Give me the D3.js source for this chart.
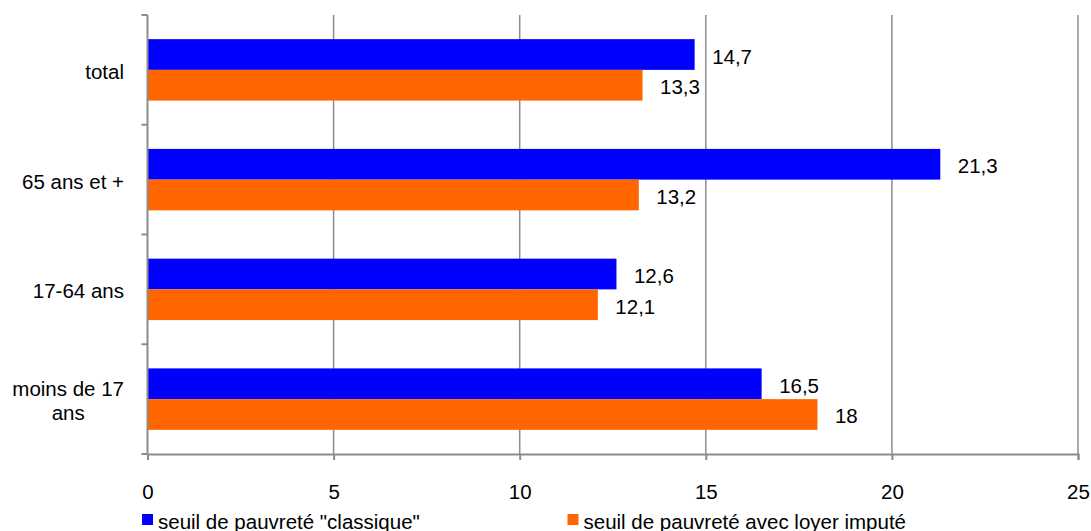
<!DOCTYPE html>
<html>
<head>
<meta charset="utf-8">
<script src="https://cdn.jsdelivr.net/npm/d3@7"></script>
<style>
  html, body { margin: 0; padding: 0; background: #fff; }
  svg { display: block; font-family: "Liberation Sans", Arial, sans-serif; }
</style>
</head>
<body>
<svg id="chart" width="1091" height="531"></svg>
<script>
// Taux de pauvreté par âge selon deux définitions du seuil
const categories = ["total", "65 ans et +", "17-64 ans", "moins de 17 ans"];
const categoryLines = [["total"], ["65 ans et +"], ["17-64 ans"], ["moins de 17", "ans"]];
const seriesNames = ["seuil de pauvreté \"classique\"", "seuil de pauvreté avec loyer imputé"];
const classique = [14.7, 21.3, 12.6, 16.5];
const loyerImpute = [13.3, 13.2, 12.1, 18];
const xTicks = [0, 5, 10, 15, 20, 25];
const colors = ["#0000ff", "#ff6600"];

const svg = d3.select("#chart");
const margin = { left: 147.5, right: 13, top: 15, bottom: 77 };
const W = 1091, H = 531;
const fontSize = 20.5;
const gray = "#8c8c8c";

const x = d3.scaleLinear().domain([0, 25]).range([margin.left, W - margin.right]);
const y = d3.scaleBand().domain(categories).range([margin.top, H - margin.bottom])
  .paddingInner(0.44).paddingOuter(0.22);
const ySub = d3.scaleBand().domain([0, 1]).range([0, y.bandwidth()]).padding(0);

const plotTop = margin.top, plotBottom = H - margin.bottom;
const step = y.step();

// Vertical gridlines
svg.append("g").selectAll("line").data(xTicks.filter(d => d > 0)).join("line")
  .attr("x1", d => x(d)).attr("x2", d => x(d))
  .attr("y1", plotTop).attr("y2", plotBottom)
  .attr("stroke", gray).attr("stroke-width", 1.5);

// Bars
const rows = categories.map((c, i) => ({ cat: c, vals: [classique[i], loyerImpute[i]] }));
const groups = svg.append("g").selectAll("g").data(rows).join("g")
  .attr("transform", d => `translate(0,${y(d.cat)})`);

groups.selectAll("rect").data(d => d.vals.map((v, k) => ({ v, k }))).join("rect")
  .attr("x", x(0))
  .attr("y", d => ySub(d.k))
  .attr("width", d => x(d.v) - x(0))
  .attr("height", ySub.bandwidth())
  .attr("fill", d => colors[d.k]);

// Value labels
const fmt = v => String(v).replace(".", ",");
groups.selectAll("text").data(d => d.vals.map((v, k) => ({ v, k }))).join("text")
  .attr("x", d => x(d.v) + 17.5)
  .attr("y", d => ySub(d.k) + ySub.bandwidth() / 2 + 9)
  .attr("font-size", fontSize)
  .attr("fill", "#000")
  .text(d => fmt(d.v));

// Left axis line with ticks at category boundaries
svg.append("line")
  .attr("x1", x(0)).attr("x2", x(0))
  .attr("y1", plotTop).attr("y2", plotBottom)
  .attr("stroke", gray).attr("stroke-width", 2);
svg.append("g").selectAll("line").data(d3.range(categories.length + 1)).join("line")
  .attr("x1", x(0) - 6).attr("x2", x(0))
  .attr("y1", i => plotTop + i * step).attr("y2", i => plotTop + i * step)
  .attr("stroke", gray).attr("stroke-width", 2);

// Category labels (lines centred within a right-aligned block)
const labelRight = 124;
categories.forEach((c, i) => {
  const lines = categoryLines[i];
  const cy = y(c) + y.bandwidth() / 2;
  const lh = 23.5;
  const t = svg.append("text").attr("font-size", fontSize).attr("fill", "#000");
  const spans = lines.map((ln, j) => t.append("tspan")
    .attr("y", cy + 9 + (j - (lines.length - 1) / 2) * lh).text(ln));
  const widths = spans.map(s => s.node().getComputedTextLength());
  const maxW = d3.max(widths);
  spans.forEach(s => s.attr("x", labelRight - maxW / 2).attr("text-anchor", "middle"));
});

// Bottom axis
const xAxis = svg.append("g").attr("transform", `translate(0,${plotBottom})`)
  .call(d3.axisBottom(x).tickValues(xTicks).tickSize(6).tickFormat(d3.format("d")));
xAxis.select(".domain").attr("stroke", gray).attr("stroke-width", 2);
xAxis.selectAll(".tick line").attr("stroke", gray).attr("stroke-width", 2);
xAxis.selectAll(".tick text")
  .attr("font-family", "Liberation Sans, Arial, sans-serif")
  .attr("font-size", fontSize).attr("fill", "#000")
  .attr("y", 0).attr("dy", 0)
  .attr("transform", "translate(0,45)");

// Legend
const legendX = [142, 567.5];
const legend = svg.append("g").selectAll("g").data(seriesNames).join("g")
  .attr("transform", (d, i) => `translate(${legendX[i]},0)`);
legend.append("rect").attr("x", 0).attr("y", 514).attr("width", 11).attr("height", 11)
  .attr("fill", (d, i) => colors[i]);
legend.append("text").attr("x", 16).attr("y", 528.5)
  .attr("font-size", fontSize).attr("fill", "#000").text(d => d);
</script>
</body>
</html>
